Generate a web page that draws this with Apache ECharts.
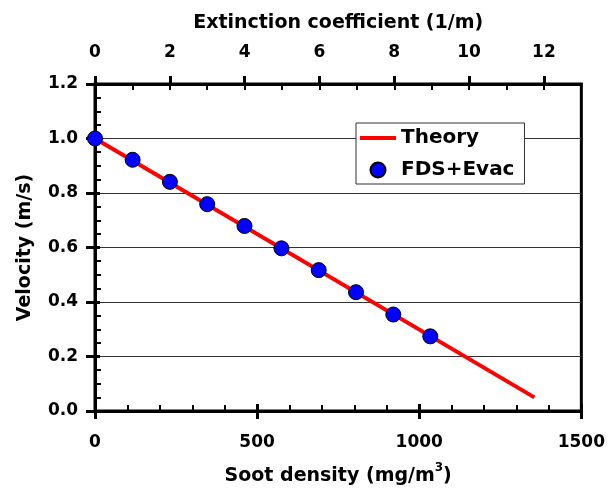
<!DOCTYPE html>
<html>
<head>
<meta charset="utf-8">
<script src="https://cdn.jsdelivr.net/npm/echarts@6/dist/echarts.min.js"></script>
<style>
html,body{margin:0;padding:0;background:#fff;}
#chart{width:608px;height:498px;}
</style>
</head>
<body>
<div id="chart"></div>
<script>
// Data
const sootDensity = [0, 116, 231, 346, 461, 575, 690, 805, 920, 1034];   // mg/m3
const fdsVelocity = [1.00, 0.922, 0.841, 0.759, 0.679, 0.597, 0.517, 0.436, 0.354, 0.274]; // m/s
const theorySoot = [0, 1355];
const theoryVelocity = [1.00, 0.05];
const sootTicks = [0, 500, 1000, 1500];
const extinctionLabels = [0, 2, 4, 6, 8, 10, 12];
const extinctionMinor = [0, 1, 2, 3, 4, 5, 6, 7, 8, 9, 10, 11, 12];
const velocityTicks = [0.0, 0.2, 0.4, 0.6, 0.8, 1.0, 1.2];

const FONT = '"DejaVu Sans", sans-serif';
const lbl = {fontFamily: FONT, fontWeight: 'bold', fontSize: 17, color: '#000'};
const ttl = {fontFamily: FONT, fontWeight: 'bold', fontSize: 19, color: '#000'};

const chart = echarts.init(document.getElementById('chart'), null, {renderer: 'canvas'});

const option = {
  animation: false,
  backgroundColor: '#fff',
  grid: {left: 95, right: 26, top: 84, bottom: 87, show: true, borderColor: '#000', borderWidth: 3, backgroundColor: 'transparent'},
  legend: {
    left: 356, top: 123,
    orient: 'vertical',
    backgroundColor: '#fff',
    borderColor: '#333', borderWidth: 1, borderRadius: 0,
    padding: [5, 10, 4, 4],
    itemWidth: 36, itemHeight: 15, itemGap: 12,
    textStyle: {fontFamily: FONT, fontWeight: 'bold', fontSize: 20, color: '#000', lineHeight: 20},
    data: [
      {name: 'Theory', icon: 'path://M0,0 L36,0 L36,4 L0,4 Z', itemStyle: {color: '#ff0000'}},
      {name: 'FDS+Evac', icon: 'circle'}
    ]
  },
  xAxis: [
    { // bottom, labels + outward major ticks
      type: 'value', position: 'bottom', min: sootTicks[0], max: sootTicks[sootTicks.length - 1], interval: 500,
      axisLine: {show: true, lineStyle: {color: '#000', width: 3}},
      axisTick: {show: true, inside: false, length: 8, lineStyle: {color: '#000', width: 3}},
      axisLabel: Object.assign({}, lbl, {margin: 23, formatter: v => String(v)}),
      splitLine: {show: false},
      name: '{a|Soot density (mg/m}{s|3}{a|)}',
      nameLocation: 'middle', nameGap: 51,
      nameTextStyle: {rich: {
        a: Object.assign({}, ttl, {lineHeight: 24, verticalAlign: 'bottom'}),
        s: Object.assign({}, ttl, {fontSize: 12, lineHeight: 24, verticalAlign: 'top'})
      }}
    },
    { // bottom, inward major + minor ticks
      type: 'value', position: 'bottom', min: 0, max: 1500, interval: 500,
      axisLine: {show: false},
      axisTick: {show: true, inside: true, length: 7, lineStyle: {color: '#000', width: 3}},
      minorTick: {show: true, splitNumber: 5, length: 6, lineStyle: {color: '#000', width: 2}},
      axisLabel: {show: false}, splitLine: {show: false}
    },
    { // top, labels + outward major ticks
      type: 'value', position: 'top', min: 0, max: 13,
      axisLine: {show: true, lineStyle: {color: '#000', width: 3}},
      axisTick: {show: true, inside: false, length: 8, customValues: extinctionLabels, lineStyle: {color: '#000', width: 3}},
      axisLabel: Object.assign({}, lbl, {margin: 23, customValues: extinctionLabels}),
      splitLine: {show: false},
      name: 'Extinction coefficient (1/m)',
      nameLocation: 'middle', nameGap: 51,
      nameTextStyle: ttl
    },
    { // top, inward ticks at every unit
      type: 'value', position: 'top', min: 0, max: 13,
      axisLine: {show: false},
      axisTick: {show: true, inside: true, length: 6, customValues: extinctionMinor, lineStyle: {color: '#000', width: 2}},
      axisLabel: {show: false}, splitLine: {show: false}
    }
  ],
  yAxis: [
    {
      type: 'value', position: 'left', min: velocityTicks[0], max: velocityTicks[velocityTicks.length - 1], interval: 0.2,
      axisLine: {show: true, lineStyle: {color: '#000', width: 3}},
      axisTick: {show: true, inside: false, length: 9, lineStyle: {color: '#000', width: 3}},
      axisLabel: Object.assign({}, lbl, {margin: 17, formatter: v => v.toFixed(1)}),
      splitLine: {show: true, lineStyle: {color: '#333', width: 1}},
      name: 'Velocity (m/s)',
      nameLocation: 'middle', nameGap: 60,
      nameTextStyle: ttl
    },
    {
      type: 'value', position: 'left', min: 0, max: 1.2, interval: 0.2,
      axisLine: {show: false},
      axisTick: {show: true, inside: true, length: 5, lineStyle: {color: '#000', width: 3}},
      minorTick: {show: true, splitNumber: 4, length: 6, lineStyle: {color: '#000', width: 2}},
      axisLabel: {show: false}, splitLine: {show: false}
    }
  ],
  series: [
    {
      name: 'Theory', type: 'line', xAxisIndex: 0, yAxisIndex: 0,
      data: theorySoot.map((x, i) => [x, theoryVelocity[i]]),
      symbol: 'none', showSymbol: false,
      lineStyle: {color: '#ff0000', width: 4},
      itemStyle: {color: '#ff0000'},
      z: 2
    },
    {
      name: 'FDS+Evac', type: 'scatter', xAxisIndex: 0, yAxisIndex: 0,
      data: sootDensity.map((x, i) => [x, fdsVelocity[i]]),
      symbol: 'circle', symbolSize: 15,
      itemStyle: {color: '#0000ff', borderColor: '#000', borderWidth: 1, opacity: 1},
      z: 3
    }
  ]
};
chart.setOption(option);
</script>
</body>
</html>
